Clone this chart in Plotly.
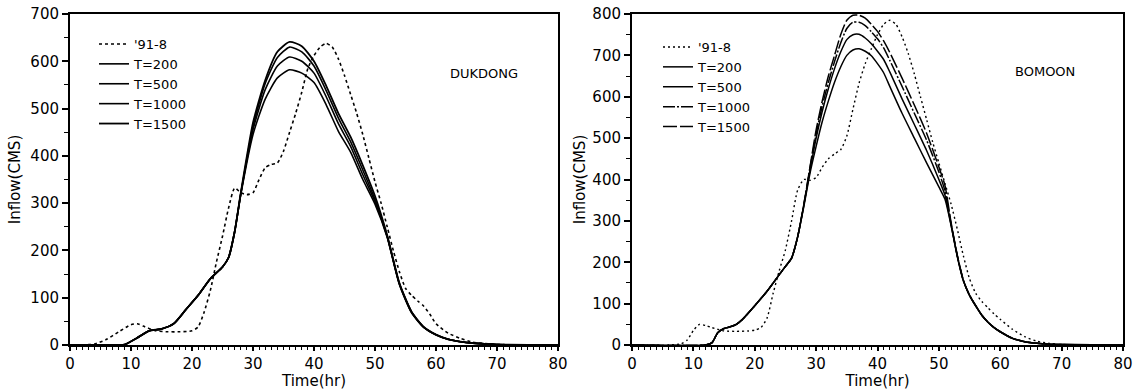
import plotly.graph_objects as go

# ---------------- DUKDONG (left) ----------------
duk_obs_t = [0, 4, 6, 8, 10, 11, 12, 14, 16, 18, 20, 21, 22, 23, 24, 25, 26, 27, 28, 29, 30,
             31, 32, 33, 34, 35, 36, 37, 38, 39, 40, 41, 42, 43, 44, 45, 46, 47, 48, 49, 50,
             51, 52, 53, 54, 55, 56, 57, 58, 59, 60, 62, 64, 66, 68, 70, 80]
duk_obs = [0, 2, 12, 28, 43, 45, 40, 30, 28, 28, 30, 38, 70, 115, 175, 230, 290, 332, 322, 318, 322,
           350, 375, 382, 385, 410, 450, 490, 535, 585, 612, 630, 638, 630, 605, 570, 530, 490, 445, 395, 345,
           300, 250, 200, 155, 120, 105, 93, 82, 65, 45, 25, 14, 6, 3, 1, 0]

duk_t = [0, 8, 9, 11, 13, 15, 17, 19, 21, 23, 25, 26, 27, 28, 30, 32, 34, 36, 38, 40, 42, 44, 46,
         48, 50, 52, 54, 56, 58, 60, 62, 64, 66, 70, 80]
duk_T200 = [0, 0, 1, 15, 30, 34, 45, 75, 105, 140, 165, 185, 240, 318, 445, 520, 565, 582, 575, 555,
            508, 452, 408, 350, 298, 228, 128, 68, 37, 21, 12, 7, 4, 1, 0]
duk_T500 = [0, 0, 1, 15, 30, 34, 45, 75, 105, 140, 165, 185, 240, 320, 455, 540, 590, 609, 600, 575,
            525, 468, 420, 360, 303, 229, 129, 69, 37, 22, 12, 7, 4, 1, 0]
duk_T1000 = [0, 0, 1, 15, 30, 34, 45, 75, 105, 140, 165, 185, 240, 320, 462, 553, 608, 630, 620, 590,
             538, 480, 430, 370, 308, 230, 130, 70, 38, 22, 12, 7, 4, 1, 0]
duk_T1500 = [0, 0, 1, 15, 30, 34, 45, 75, 105, 140, 165, 185, 240, 322, 470, 560, 620, 641, 632, 600,
             548, 490, 440, 380, 315, 232, 131, 70, 38, 22, 12, 7, 4, 1, 0]

# ---------------- BOMOON (right) ----------------
bom_obs_t = [0, 6, 8, 9, 10, 11, 12, 13, 15, 17, 19, 20, 21, 22, 23, 24, 25, 26, 27, 28, 29, 30,
             31, 32, 33, 34, 35, 36, 37, 38, 39, 40, 41, 42, 43, 44, 45, 46, 47, 48, 49, 50,
             51, 52, 53, 54, 55, 56, 57, 58, 59, 60, 62, 64, 66, 68, 70, 80]
bom_obs = [0, 0, 3, 12, 35, 50, 47, 42, 34, 33, 34, 36, 42, 65, 125, 180, 230, 300, 375, 400, 398, 405,
           430, 450, 462, 472, 505, 570, 633, 680, 716, 750, 775, 785, 775, 745, 705, 655, 600, 545, 490, 440,
           390, 340, 280, 215, 160, 125, 105, 90, 75, 62, 38, 20, 9, 4, 1, 0]

bom_t = [0, 12, 13, 14, 15, 16, 17, 18, 20, 22, 24, 25, 26, 27, 28, 29, 30, 31, 32, 33, 34, 35, 36,
         37, 38, 39, 40, 41, 42, 44, 46, 48, 50, 51, 52, 53, 54, 55, 56, 57, 58, 59, 60, 62, 64,
         66, 68, 70, 80]
bom_T200 = [0, 0, 5, 30, 40, 44, 50, 62, 95, 130, 170, 190, 210, 262, 335, 415, 480, 540, 590, 635, 672,
            700, 713, 716, 710, 699, 680, 658, 625, 560, 500, 440, 382, 352, 288, 214, 155, 120, 94, 72,
            55, 42, 32, 16, 8, 4, 2, 1, 0]
bom_T500 = [0, 0, 5, 30, 40, 44, 50, 62, 95, 130, 170, 190, 210, 262, 338, 422, 500, 565, 620, 668, 708,
            738, 750, 751, 742, 728, 710, 690, 660, 595, 533, 470, 400, 362, 290, 215, 155, 120, 95, 72,
            55, 42, 32, 16, 8, 4, 2, 1, 0]
bom_T1000 = [0, 0, 5, 30, 40, 44, 50, 62, 95, 130, 170, 190, 210, 262, 340, 428, 510, 578, 635, 685, 730,
             765, 780, 780, 772, 757, 740, 718, 688, 625, 560, 495, 418, 372, 292, 216, 156, 120, 95, 72,
             55, 42, 32, 16, 8, 4, 2, 1, 0]
bom_T1500 = [0, 0, 5, 30, 40, 44, 50, 62, 95, 130, 170, 190, 210, 262, 340, 430, 520, 590, 650, 700, 750,
             785, 797, 797, 790, 775, 758, 735, 707, 645, 580, 512, 430, 385, 295, 217, 156, 120, 95, 72,
             55, 42, 32, 16, 8, 4, 2, 1, 0]

legend_names = ["'91-8", "T=200", "T=500", "T=1000", "T=1500"]
x_ticks = [0, 10, 20, 30, 40, 50, 60, 70, 80]

FONT = "DejaVu Sans"
W, H = 1135, 390
T_M = 14
PLOT_BOTTOM = 345
B_M = H - PLOT_BOTTOM
PLOT_H = H - T_M - B_M

def px_x(p):                 # page pixel -> paper x
    return p / W

def px_y(p):                 # page pixel -> paper y
    return (PLOT_BOTTOM - p) / PLOT_H

fig = go.Figure()

def add(x, y, name, dash, width, xa, ya, leg):
    fig.add_trace(go.Scatter(
        x=x, y=y, name=name, mode="lines", xaxis=xa, yaxis=ya, legend=leg,
        line=dict(color="black", width=width, dash=dash, shape="spline", smoothing=0.6),
    ))

# left panel
add(duk_obs_t, duk_obs, legend_names[0], "3px,3px", 1.6, "x", "y", "legend")
add(duk_t, duk_T200, legend_names[1], "solid", 1.6, "x", "y", "legend")
add(duk_t, duk_T500, legend_names[2], "solid", 1.6, "x", "y", "legend")
add(duk_t, duk_T1000, legend_names[3], "solid", 1.6, "x", "y", "legend")
add(duk_t, duk_T1500, legend_names[4], "solid", 1.8, "x", "y", "legend")

# right panel
add(bom_obs_t, bom_obs, legend_names[0], "2px,3px", 1.4, "x2", "y2", "legend2")
add(bom_t, bom_T200, legend_names[1], "solid", 1.5, "x2", "y2", "legend2")
add(bom_t, bom_T500, legend_names[2], "solid", 1.5, "x2", "y2", "legend2")
add(bom_t, bom_T1000, legend_names[3], "12px,2px,2px,2px", 1.5, "x2", "y2", "legend2")
add(bom_t, bom_T1500, legend_names[4], "14px,3px", 1.5, "x2", "y2", "legend2")

tickfont = dict(family=FONT, size=15, color="black")
titlefont = dict(family=FONT, size=15, color="black")

def xaxis(domain, anchor):
    return dict(
        domain=domain, anchor=anchor, range=[0, 80], tickvals=x_ticks,
        showgrid=False, zeroline=False, showline=True, linecolor="black", linewidth=2,
        mirror=True, ticks="outside", ticklen=4, tickwidth=1.5, tickcolor="black",
        minor=dict(dtick=1, ticks="outside", ticklen=3, tickwidth=1, tickcolor="black"),
        tickfont=tickfont, title=dict(text="Time(hr)", font=titlefont, standoff=0),
        automargin=True, ticklabeloverflow="allow",
    )

def yaxis(anchor, top, standoff):
    return dict(
        anchor=anchor, range=[0, top], dtick=100,
        showgrid=False, zeroline=False, showline=True, linecolor="black", linewidth=2,
        mirror=True, ticks="outside", ticklen=6, tickwidth=1.5, tickcolor="black",
        minor=dict(dtick=50, ticks="outside", ticklen=4, tickwidth=1, tickcolor="black"),
        tickfont=tickfont, title=dict(text="Inflow(CMS)", font=titlefont, standoff=standoff),
        automargin=True, ticklabeloverflow="allow",
    )

legend_common = dict(
    font=dict(family=FONT, size=13, color="black"), bgcolor="rgba(0,0,0,0)",
    borderwidth=0, xref="paper", yref="paper", xanchor="left", yanchor="top",
    tracegroupgap=0, itemwidth=30,
)

fig.update_layout(
    width=W, height=H,
    margin=dict(l=0, r=0, t=T_M, b=B_M, autoexpand=False),
    plot_bgcolor="white", paper_bgcolor="white",
    xaxis=xaxis([px_x(70), px_x(558)], "y"),
    yaxis=yaxis("x", 700, 6),
    xaxis2=xaxis([px_x(632), px_x(1123)], "y2"),
    yaxis2=yaxis("x2", 800, 3),
    legend=dict(x=px_x(94), y=px_y(29), **legend_common),
    legend2=dict(x=px_x(658), y=px_y(32), **legend_common),
    annotations=[
        dict(text="DUKDONG", xref="x", yref="y", x=67.9, y=575, showarrow=False,
             font=dict(family=FONT, size=13, color="black")),
        dict(text="BOMOON", xref="x2", yref="y2", x=67.3, y=662, showarrow=False,
             font=dict(family=FONT, size=13, color="black")),
    ],
    showlegend=True,
)

# remove the browser's default 8px page margin so the 1135x390 figure fills the window
fig.write_html(
    "out.html",
    config={"displayModeBar": False},
    post_script="document.body.style.margin='0';document.body.style.overflow='hidden';",
)
